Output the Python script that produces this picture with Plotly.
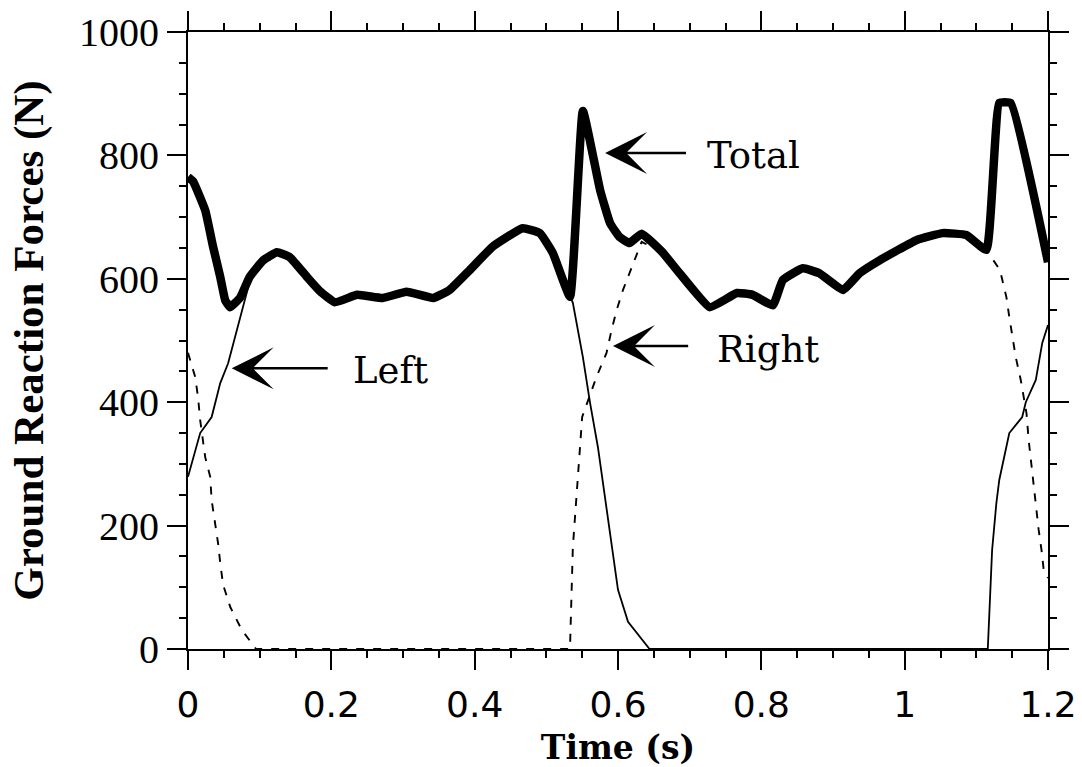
import plotly.graph_objects as go

# ---- data ----
time_total = [0.000, 0.007, 0.024, 0.035, 0.045, 0.052, 0.059, 0.073, 0.086, 0.105,
              0.124, 0.142, 0.166, 0.184, 0.205, 0.236, 0.272, 0.305, 0.342, 0.365,
              0.393, 0.425, 0.467, 0.491, 0.509, 0.533, 0.551, 0.575, 0.589, 0.602,
              0.616, 0.633, 0.662, 0.686, 0.728, 0.766, 0.788, 0.816, 0.830, 0.858,
              0.881, 0.914, 0.937, 0.965, 1.017, 1.053, 1.086, 1.114, 1.132, 1.148,
              1.200]
force_total = [765, 758, 711, 652, 603, 565, 554, 570, 603, 630,
               643, 635, 603, 580, 562, 574, 569, 579, 569, 582,
               614, 652, 682, 674, 642, 571, 872, 744, 690, 668,
               658, 673, 643, 609, 554, 577, 574, 557, 598, 617,
               609, 582, 609, 630, 663, 674, 671, 647, 885, 885,
               627]

time_left = [0.000, 0.017, 0.033, 0.045, 0.056, 0.068, 0.086, 0.105, 0.124, 0.142,
             0.166, 0.184, 0.205, 0.236, 0.272, 0.305, 0.342, 0.365, 0.393, 0.425,
             0.467, 0.491, 0.509, 0.533, 0.537, 0.551, 0.561, 0.572, 0.582, 0.591,
             0.600, 0.614, 0.644, 1.116, 1.122, 1.128, 1.132, 1.146, 1.164, 1.169,
             1.183, 1.192, 1.200]
force_left = [279, 350, 376, 431, 463, 517, 595, 630, 643, 635,
              603, 580, 562, 574, 569, 579, 569, 582, 614, 652,
              682, 674, 642, 571, 561, 473, 399, 327, 246, 165,
              96, 44, 0, 0, 160, 237, 274, 350, 376, 400,
              436, 496, 525]

time_right = [0.000, 0.010, 0.014, 0.017, 0.024, 0.031, 0.033, 0.038, 0.042, 0.045,
              0.049, 0.059, 0.075, 0.095, 0.533, 0.537, 0.544, 0.550, 0.570, 0.584,
              0.591, 0.598, 0.607, 0.619, 0.633, 0.662, 0.686, 0.728, 0.766, 0.788,
              0.816, 0.830, 0.858, 0.881, 0.914, 0.937, 0.965, 1.017, 1.053, 1.086,
              1.114, 1.133, 1.142, 1.146, 1.155, 1.162, 1.170, 1.173, 1.177, 1.183,
              1.187, 1.191, 1.194, 1.200]
force_right = [480, 441, 408, 371, 311, 279, 241, 204, 171, 139,
               104, 68, 31, 0, 0, 165, 274, 376, 441, 480,
               517, 549, 582, 619, 660, 643, 609, 554, 577, 574,
               557, 598, 617, 609, 582, 609, 630, 663, 674, 671,
               647, 614, 570, 538, 473, 436, 382, 339, 295, 230,
               193, 160, 128, 115]

x_tick_vals = [0, 0.2, 0.4, 0.6, 0.8, 1.0, 1.2]
x_tick_text = ["0", "0.2", "0.4", "0.6", "0.8", "1", "1.2"]
y_tick_vals = [0, 200, 400, 600, 800, 1000]
y_tick_text = ["0", "200", "400", "600", "800", "1000"]

# labels: (text, arrow tip x, tip y, tail x, text x, text y)
labels = [
    ("Total", 0.582, 804, 0.697, 0.722, 800),
    ("Right", 0.593, 491, 0.700, 0.735, 485),
    ("Left", 0.061, 455, 0.197, 0.227, 451),
]

fig = go.Figure()
fig.add_trace(go.Scatter(x=time_right, y=force_right, mode="lines",
                         line=dict(color="black", width=1.9, dash="8px,9px"),
                         showlegend=False, hoverinfo="skip"))
fig.add_trace(go.Scatter(x=time_left, y=force_left, mode="lines",
                         line=dict(color="black", width=1.8),
                         showlegend=False, hoverinfo="skip"))
fig.add_trace(go.Scatter(x=time_total, y=force_total, mode="lines",
                         line=dict(color="black", width=8.5, shape="spline", smoothing=0.35),
                         showlegend=False, hoverinfo="skip"))

for text, tx, ty, ax, lx, ly in labels:
    fig.add_annotation(x=tx, y=ty, ax=ax, ay=ty, xref="x", yref="y",
                       axref="x", ayref="y", text="", showarrow=True,
                       arrowhead=3, arrowsize=2.8, arrowwidth=2.5, arrowcolor="black")
    fig.add_annotation(x=lx, y=ly, xref="x", yref="y", text=text, showarrow=False,
                       xanchor="left", yanchor="middle",
                       font=dict(family="DejaVu Serif", size=37, color="black"))

fig.update_xaxes(
    range=[0, 1.2], tickmode="array", tickvals=x_tick_vals, ticktext=x_tick_text,
    ticks="outside", ticklen=19, tickwidth=2, tickcolor="black",
    showline=True, linecolor="black", linewidth=2, mirror="allticks",
    showgrid=False, zeroline=False, ticklabelstandoff=4, automargin=False,
    minor=dict(tick0=0, dtick=0.05, ticks="outside", ticklen=7, tickwidth=1.5,
               tickcolor="black", showgrid=False),
    tickfont=dict(family="DejaVu Sans", size=36, color="black"),
    title=dict(text="<b>Time (s)</b>", standoff=12,
               font=dict(family="DejaVu Serif", size=33, color="black")),
)
fig.update_yaxes(
    range=[0, 1000], tickmode="array", tickvals=y_tick_vals, ticktext=y_tick_text,
    ticks="outside", ticklen=19, tickwidth=2, tickcolor="black",
    showline=True, linecolor="black", linewidth=2, mirror="allticks",
    showgrid=False, zeroline=False, automargin=False,
    minor=dict(tick0=0, dtick=50, ticks="outside", ticklen=7, tickwidth=1.5,
               tickcolor="black", showgrid=False),
    tickfont=dict(family="Liberation Serif", size=40, color="black"),
    title=dict(text="<b>Ground Reaction Forces (N)</b>", standoff=22,
               font=dict(family="Liberation Serif", size=43, color="black")),
)
fig.update_layout(
    width=1082, height=767,
    margin=dict(l=188, r=34, t=32, b=118),
    paper_bgcolor="white", plot_bgcolor="white",
    showlegend=False,
)
fig.write_html("out.html")
